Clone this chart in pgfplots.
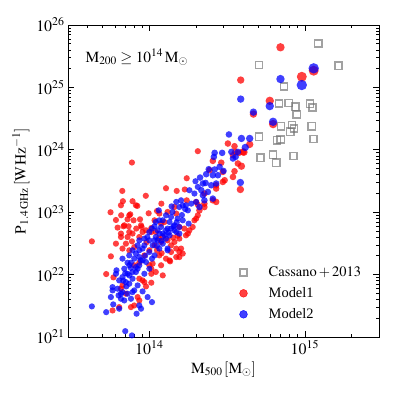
\documentclass[border=0pt]{standalone}
\usepackage{mathptmx}
\usepackage{fontspec}
\setmainfont{Liberation Serif}
\usepackage{pgfplots}
\pgfplotsset{compat=1.18}

\definecolor{cgray}{RGB}{110,110,110}
\pgfplotsset{
  mred/.style={only marks, mark=*, mark size=#1, mark options={draw=red, draw opacity=0, fill=red, fill opacity=0.75}},
  mblue/.style={only marks, mark=*, mark size=#1, mark options={draw=blue, draw opacity=0, fill=blue, fill opacity=0.75}},
}

\begin{document}
\begin{tikzpicture}
\useasboundingbox (-68bp,-62bp) rectangle (331bp,337bp);
\begin{axis}[
  scale only axis,
  width=311bp, height=312bp,
  xmode=log, ymode=log,
  xmin=3e13, xmax=3e15,
  ymin=1e21, ymax=1e26,
  xtick={1e14,1e15},
  minor xtick={4e13,5e13,6e13,7e13,8e13,9e13,2e14,3e14,4e14,5e14,6e14,7e14,8e14,9e14,2e15},
  tick pos=both,
  tick align=inside,
  major tick length=6bp,
  minor tick length=3bp,
  axis line style={line width=0.8bp},
  every tick/.style={black, line width=0.6bp},
  tick label style={font=\fontsize{16}{18}\selectfont},
  label style={font=\fontsize{15.5}{18}\selectfont},
  xlabel={$\mathrm{M_{500}\,[M_{\odot}]}$},
  ylabel={$\mathrm{P_{1.4\,GHz}\,[W\,Hz^{-1}]}$},
  legend cell align=left,
  legend style={at={(0.526,0.238)}, anchor=north west, draw=none, fill=none,
    font=\fontsize{14.5}{16}\selectfont, row sep=5.5bp,
    /tikz/every odd column/.append style={column sep=6bp}},
]

% Cassano+2013
\addplot[only marks, mark=square, mark size=3.6bp,
  mark options={draw=cgray, line width=1.6bp, opacity=0.65},
  legend image code/.code={\path (0cm,0cm) (0.9cm,0cm); \draw[cgray, opacity=0.65, line width=1.6bp] (0.3cm-3.6bp,-3.6bp) rectangle ++(7.2bp,7.2bp);}]
coordinates {
(1.22e15,5.08e25) (5.07e14,2.28e25) (1.65e15,2.22e25) (7.35e14,1.03e25)
(6.82e14,5.50e24) (7.89e14,5.60e24) (8.69e14,4.89e24) (8.88e14,3.70e24)
(1.08e15,5.46e24) (1.12e15,4.74e24) (7.02e14,2.39e24) (8.26e14,2.50e24)
(8.51e14,2.20e24) (8.04e14,1.94e24) (1.11e15,2.39e24) (5.08e14,1.61e24)
(6.62e14,1.42e24) (7.00e14,1.47e24) (1.14e15,1.49e24) (5.19e14,7.46e23)
(6.24e14,8.28e23) (6.54e14,6.17e23) (8.44e14,7.94e23)
};
\addlegendentry{$\mathrm{Cassano+2013}$}

% Model1
\addplot[mred=3.1bp,
  legend image code/.code={\path (0cm,0cm) (0.9cm,0cm); \fill[red, fill opacity=0.75] (0.3cm,0cm) circle (3.9bp);}]
coordinates {
(7.73e13,6.25e23) (6.70e13,2.19e23) (9.49e13,1.83e23) (6.76e13,1.50e23)
(7.80e13,1.50e23) (8.37e13,1.26e23) (1.28e14,2.42e23) (1.50e14,2.19e23)
(1.74e14,3.50e23) (1.69e14,2.31e23) (5.63e13,9.97e22) (6.10e13,7.50e22)
(6.59e13,8.92e22) (7.54e13,9.25e22) (7.24e13,7.69e22) (7.92e13,7.41e22)
(8.71e13,7.69e22) (9.90e13,9.60e22) (1.08e14,7.41e22) (1.195e14,1.37e23)
(1.12e14,1.045e23) (6.82e13,5.94e22) (7.36e13,5.94e22) (8.24e13,5.46e22)
(8.92e13,5.79e22) (6.25e13,5.66e22) (4.27e13,3.41e22) (7.43e13,4.81e22)
(9.52e13,5.12e22) (1.03e14,5.57e22) (6.57e13,4.00e22) (7.24e13,4.00e22)
(7.73e13,3.41e22) (6.72e13,2.61e22) (7.43e13,2.45e22) (8.00e13,2.76e22)
(6.10e13,3.13e22) (7.07e13,3.13e22) (5.66e13,1.96e22) (5.28e13,1.02e22)
(5.88e13,9.02e21) (6.72e13,6.71e21) (6.57e13,5.94e21) (7.07e13,4.94e21)
(8.41e13,4.36e21) (8.62e13,3.85e21) (8.00e13,3.20e21) (6.40e13,3.01e21)
(7.62e13,3.01e21) (5.80e13,2.66e21) (9.29e13,7.58e21) (1.03e14,7.41e21)
(9.52e13,6.47e21) (8.62e13,8.59e21) (1.10e14,1.10e22) (1.19e14,1.41e22)
(1.22e14,9.71e21) (1.03e14,1.03e22) (1.00e14,1.41e22) (1.28e14,1.80e22)
(1.36e14,1.63e22) (1.49e14,1.91e22) (1.56e14,2.30e22) (1.60e14,2.61e22)
(1.49e14,2.61e22) (1.38e14,2.30e22) (1.72e14,4.26e22) (1.81e14,5.12e22)
(1.90e14,5.79e22) (1.68e14,5.46e22) (1.56e14,3.77e22) (1.45e14,3.33e22)
(1.10e14,4.81e22) (1.22e14,4.00e22) (1.19e14,3.33e22) (1.31e14,3.54e22)
(1.38e14,2.94e22) (1.64e14,2.17e22) (1.56e14,1.91e22) (1.35e14,1.69e22)
(1.77e14,4.54e22) (2.00e14,7.89e22) (2.05e14,8.92e22) (1.95e14,7.41e22)
(1.56e14,5.79e22) (1.25e14,6.96e22) (1.74e14,1.55e23) (2.05e14,9.50e23)
(2.05e14,1.32e23) (2.00e14,1.46e23) (1.00e14,2.45e22) (1.08e14,2.94e22)
(1.16e14,2.03e22) (9.29e13,2.03e22) (8.62e13,1.55e22) (8.00e13,1.41e22)
(1.05e14,1.50e22) (1.03e14,1.24e22) (9.05e13,8.07e21) (6.57e13,1.29e23)
(8.20e13,1.29e23) (7.43e13,8.92e22) (8.84e13,6.16e22) (6.90e13,6.16e22)
(6.57e13,4.54e22) (7.80e13,4.54e22) (8.62e13,4.00e22) (9.05e13,4.81e22)
(1.03e14,4.81e22) (1.19e14,6.56e22) (1.16e14,9.50e22) (1.45e14,1.21e23)
(1.49e14,9.50e22) (1.31e14,1.01e23) (1.12e14,2.45e22) (1.20e14,2.20e22)
(1.42e14,3.90e22) (1.52e14,4.20e22) (9.60e13,3.30e22) (1.15e14,3.80e22)
};
\addlegendentry{Model1}
\addplot[mred=3.3bp, forget plot] coordinates {
(2.26e14,1.21e23) (2.10e14,1.07e23) (2.26e14,1.99e23) (2.44e14,4.71e23)
(2.56e14,1.55e23) (2.69e14,2.39e23) (2.97e14,3.05e23) (3.45e14,3.67e23)
(3.53e14,4.53e23) (2.90e14,6.21e23) (2.56e14,6.64e23) (3.20e14,1.26e24)
(3.53e14,1.14e24) (3.71e14,6.03e23) (3.05e14,3.25e23) (2.69e14,2.70e23)
(2.69e14,1.46e23) (2.26e14,1.37e23) (3.45e14,8.19e23) (3.57e14,9.25e23)
(3.77e14,8.92e23) (2.97e14,4.42e23)
};
\addplot[mred=3.7bp, forget plot] coordinates {
(3.85e14,2.31e23) (4.06e14,9.15e23) (4.42e14,1.22e24) (3.91e14,5.46e23)
(3.87e14,1.31e25) (4.67e14,3.73e24) (4.00e14,9.25e23)
};
\addplot[mred=4.2bp, forget plot] coordinates {
(5.95e14,6.09e24) (6.25e14,2.58e24) (6.97e14,4.39e25)
};
\addplot[mred=5bp, forget plot] coordinates {
(9.56e14,1.48e25) (1.14e15,1.85e25)
};

% Model2
\addplot[mblue=3.1bp,
  legend image code/.code={\path (0cm,0cm) (0.9cm,0cm); \fill[blue, fill opacity=0.75] (0.3cm,0cm) circle (3.9bp);}]
coordinates {
(1.98e14,3.13e23) (1.81e14,2.25e23) (2.05e14,2.54e23) (1.95e14,1.99e23)
(1.49e14,1.46e23) (1.60e14,1.55e23) (1.72e14,1.29e23) (1.56e14,1.21e23)
(1.86e14,1.37e23) (2.00e14,1.46e23) (1.77e14,1.07e23) (1.41e14,1.01e23)
(1.15e14,1.07e23) (1.28e14,8.92e22) (1.38e14,8.38e22) (1.52e14,7.89e22)
(1.64e14,7.41e22) (1.35e14,6.96e22) (1.22e14,7.41e22) (1.10e14,6.96e22)
(1.45e14,6.16e22) (1.56e14,5.79e22) (1.31e14,5.46e22) (1.19e14,5.79e22)
(1.08e14,5.94e22) (1.16e14,4.54e22) (1.00e14,4.81e22) (1.79e14,6.56e22)
(4.27e13,3.09e21) (5.28e13,2.50e21) (5.86e13,3.33e21) (5.66e13,4.36e21)
(5.80e13,5.58e21) (6.34e13,4.64e21) (6.57e13,4.10e21) (6.25e13,5.94e21)
(6.72e13,5.24e21) (7.24e13,4.94e21) (7.80e13,5.24e21) (8.41e13,6.71e21)
(9.05e13,5.38e21) (8.84e13,2.84e21) (8.28e13,2.36e21) (8.62e13,3.20e21)
(1.04e14,3.62e21) (7.00e13,1.24e21) (7.73e13,1.06e21) (6.15e13,1.17e22)
(6.72e13,9.12e21) (6.90e13,1.24e22) (7.24e13,1.03e22) (7.07e13,7.58e21)
(7.43e13,1.41e22) (7.80e13,1.10e22) (8.20e13,1.32e22) (6.72e13,1.80e22)
(7.43e13,2.03e22) (7.80e13,2.45e22) (8.20e13,2.17e22) (8.62e13,1.91e22)
(9.05e13,1.69e22) (9.52e13,1.59e22) (8.41e13,2.94e22) (9.05e13,2.61e22)
(1.00e14,2.30e22) (1.05e14,2.94e22) (1.08e14,2.03e22) (1.16e14,2.61e22)
(1.13e14,3.54e22) (1.22e14,4.54e22) (1.28e14,5.12e22) (1.38e14,5.46e22)
(1.49e14,4.81e22) (1.56e14,4.54e22) (1.22e14,3.13e22) (1.31e14,2.45e22)
(1.00e14,3.54e22) (1.10e14,4.00e22) (9.29e13,3.77e22) (7.62e13,1.55e22)
(8.20e13,1.10e22) (8.41e13,1.24e22) (7.80e13,8.59e21) (7.43e13,7.14e21)
(1.45e14,5.12e22) (1.35e14,4.26e22) (1.28e14,3.77e22) (1.31e14,2.61e22)
(1.64e14,1.29e23) (8.62e13,3.54e22) (9.29e13,2.94e22) (8.62e13,2.45e22)
(9.71e13,4.00e22) (1.04e14,5.46e22) (1.13e14,5.12e22) (1.08e14,3.54e22)
(1.25e14,4.26e22) (7.24e13,1.55e22) (8.00e13,1.80e22) (8.62e13,1.41e22)
(7.43e13,9.71e21) (7.11e13,6.47e21) (6.40e13,8.07e21) (6.90e13,3.85e21)
(7.62e13,4.10e21) (8.00e13,5.58e21) (9.75e13,4.36e21) (6.40e13,2.84e21)
(9.29e13,1.03e22) (1.00e14,1.24e22) (6.10e13,1.03e22) (6.57e13,4.94e21)
(5.80e13,6.30e21) (1.16e14,7.41e22) (1.39e14,1.24e23) (9.40e13,2.00e22)
(1.04e14,1.80e22) (1.12e14,2.90e22) (1.20e14,3.50e22) (1.33e14,4.70e22)
(1.43e14,5.90e22) (1.50e14,6.90e22) (1.62e14,9.00e22) (1.70e14,1.12e23)
(8.80e13,1.70e22) (7.60e13,1.28e22) (7.00e13,1.05e22) (6.80e13,8.00e21)
};
\addlegendentry{Model2}
\addplot[mblue=3.3bp, forget plot] coordinates {
(2.41e14,4.88e23) (2.63e14,4.83e23) (2.83e14,5.32e23) (3.00e14,4.58e23)
(2.76e14,3.91e23) (2.32e14,4.06e23) (2.12e14,3.59e23) (2.30e14,2.94e23)
(2.50e14,2.70e23) (2.69e14,2.88e23) (2.16e14,2.25e23) (2.21e14,1.87e23)
(2.38e14,2.11e23) (2.56e14,1.65e23) (2.26e14,1.55e23) (2.10e14,1.21e23)
(3.25e14,1.76e24) (3.37e14,9.25e23) (3.71e14,9.25e23) (3.59e14,7.69e23)
(2.94e14,8.92e23) (2.63e14,8.92e23) (2.60e14,7.69e23) (2.56e14,3.91e23)
(2.21e14,2.88e23) (3.45e14,7.25e23)
};
\addplot[mblue=3.7bp, forget plot] coordinates {
(3.91e14,1.52e24) (4.42e14,1.52e24) (4.14e14,1.09e24) (3.85e14,2.99e23)
(3.87e14,6.49e24) (4.67e14,4.01e24)
};
\addplot[mblue=4.2bp, forget plot] coordinates {
(5.95e14,5.01e24) (6.25e14,2.81e24) (6.97e14,1.36e25)
};
\addplot[mblue=5.2bp, forget plot] coordinates {
(9.56e14,1.09e25) (1.14e15,2.02e25)
};

\node[anchor=west, font=\fontsize{15.5}{17}\selectfont] at (rel axis cs:0.045,0.897)
  {$\mathrm{M_{200}\geq 10^{14}\,M_{\odot}}$};
\end{axis}
\end{tikzpicture}
\end{document}
